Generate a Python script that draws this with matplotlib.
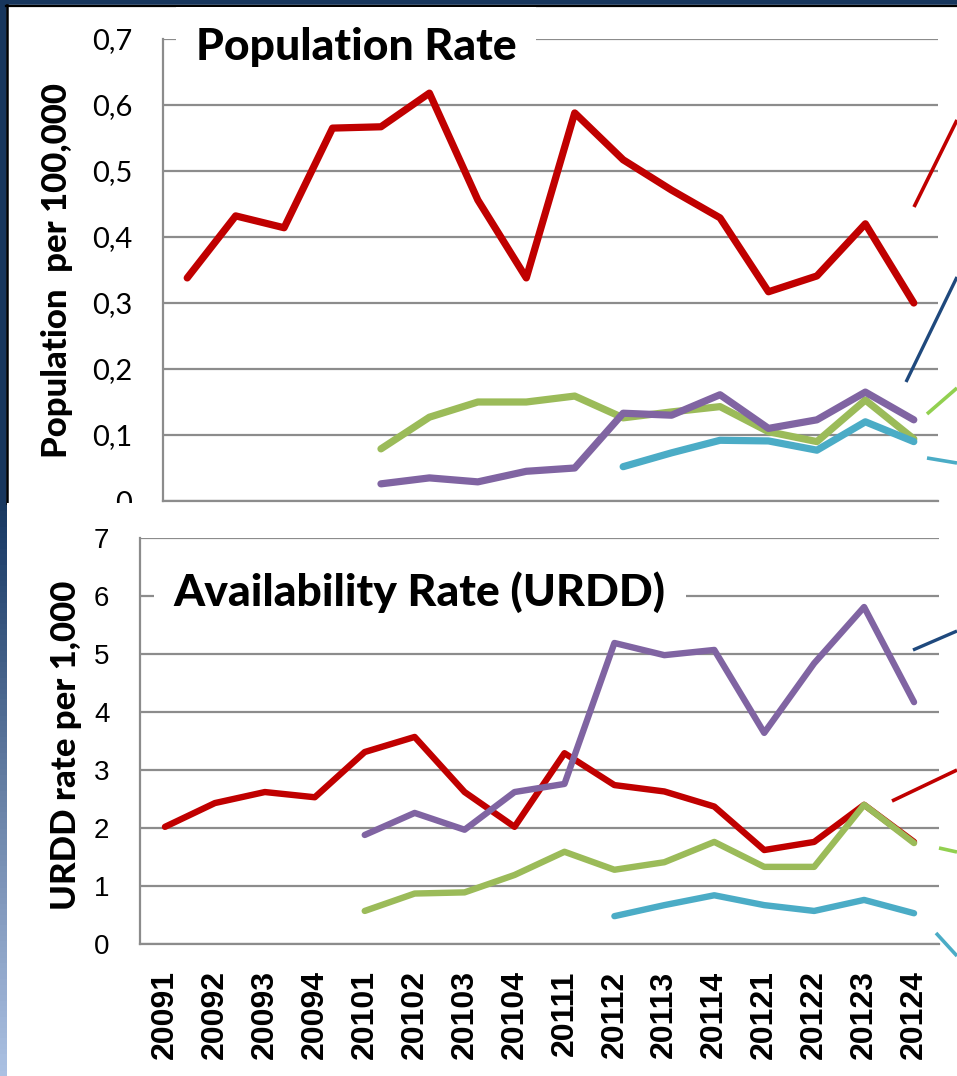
import numpy as np
import matplotlib.pyplot as plt
from matplotlib.colors import LinearSegmentedColormap

quarters = ['20091', '20092', '20093', '20094', '20101', '20102', '20103', '20104',
            '20111', '20112', '20113', '20114', '20121', '20122', '20123', '20124']

# Population rate (per 100,000)
pop_red = [0.338, 0.432, 0.414, 0.565, 0.567, 0.618, 0.456, 0.338,
           0.588, 0.517, 0.471, 0.429, 0.317, 0.341, 0.420, 0.300]
pop_green = [None, None, None, None, 0.079, 0.127, 0.150, 0.150,
             0.159, 0.126, 0.135, 0.143, 0.105, 0.090, 0.153, 0.094]
pop_purple = [None, None, None, None, 0.026, 0.035, 0.029, 0.045,
              0.050, 0.133, 0.130, 0.161, 0.110, 0.123, 0.165, 0.123]
pop_cyan = [None, None, None, None, None, None, None, None,
            None, 0.052, 0.073, 0.092, 0.091, 0.077, 0.120, 0.090]

# Availability rate (URDD per 1,000)
urdd_red = [2.02, 2.43, 2.62, 2.53, 3.31, 3.57, 2.62, 2.02,
            3.29, 2.74, 2.63, 2.37, 1.62, 1.76, 2.40, 1.76]
urdd_purple = [None, None, None, None, 1.88, 2.26, 1.97, 2.62,
               2.76, 5.19, 4.98, 5.07, 3.64, 4.84, 5.81, 4.17]
urdd_green = [None, None, None, None, 0.57, 0.87, 0.89, 1.19,
              1.59, 1.28, 1.41, 1.76, 1.33, 1.33, 2.40, 1.74]
urdd_cyan = [None, None, None, None, None, None, None, None,
             None, 0.48, 0.67, 0.84, 0.67, 0.57, 0.76, 0.53]

pop_ticks = ['0', '0,1', '0,2', '0,3', '0,4', '0,5', '0,6', '0,7']

RED = '#c00000'
GREEN = '#9bbb59'
PURPLE = '#8064a2'
CYAN = '#4bacc6'
NAVY = '#1f497d'
LIME = '#92d050'
GRID = '#8c8c8c'

# cut-off legend leader lines at the right edge (pixel coords)
leaders = [
    ((914, 207), (957, 120), RED, 2.6),
    ((906, 382), (957, 277), NAVY, 2.4),
    ((927, 414), (957, 388), LIME, 2.6),
    ((927, 458), (957, 463), CYAN, 2.6),
    ((913, 650), (957, 631), NAVY, 2.4),
    ((892, 801), (957, 770), RED, 2.6),
    ((939, 848), (957, 852), LIME, 2.6),
    ((936, 933), (957, 956), CYAN, 2.6),
]

W, H = 957, 1076


def arr(v):
    return np.array([np.nan if x is None else x for x in v], dtype=float)


def pix_axes(fig, x0, y0, x1, y1, z):
    ax = fig.add_axes([x0 / W, 1 - y1 / H, (x1 - x0) / W, (y1 - y0) / H])
    ax.set_zorder(z)
    return ax


def style_axes(ax):
    for s in ['top', 'right']:
        ax.spines[s].set_visible(False)
    for s in ['left', 'bottom']:
        ax.spines[s].set_color(GRID)
        ax.spines[s].set_linewidth(1.6)
    ax.grid(axis='y', color=GRID, linewidth=1.6)
    ax.set_axisbelow(True)
    ax.tick_params(length=0)
    ax.set_facecolor('none')
    ax.set_xlim(-0.5, len(quarters) - 0.5)


def main():
    fig = plt.figure(figsize=(W / 100, H / 100), dpi=100)

    # background: navy frame, gradient strip, white panels
    bg = fig.add_axes([0, 0, 1, 1])
    bg.set_zorder(0)
    bg.set_xlim(0, W)
    bg.set_ylim(H, 0)
    bg.axis('off')
    cmap = LinearSegmentedColormap.from_list(
        'strip', [(0, '#17365d'), (0.46, '#17365d'), (0.5, '#1e3f6a'),
                  (0.75, '#6a83a8'), (1, '#abc0e2')])
    bg.imshow(np.linspace(0, 1, 200).reshape(-1, 1), cmap=cmap, aspect='auto',
              extent=(0, 7, H, 0))
    bg.add_patch(plt.Rectangle((0, 0), W, 5, color='#17365d'))
    bg.add_patch(plt.Rectangle((7, 5), W, 498, color='white'))
    bg.plot([6, W], [5.5, 5.5], color='black', lw=1.6)
    bg.plot([7, 7], [5, 503], color='black', lw=1.8)

    # top chart
    ax1 = pix_axes(fig, 163, 39, 938, 501, 1)
    style_axes(ax1)
    x = np.arange(len(quarters))
    lw1 = 5.2
    kw = dict(solid_capstyle='round', solid_joinstyle='round')
    ax1.plot(x, arr(pop_green), color=GREEN, lw=lw1, **kw)
    ax1.plot(x, arr(pop_purple), color=PURPLE, lw=lw1, **kw)
    ax1.plot(x, arr(pop_cyan), color=CYAN, lw=lw1, **kw)
    ax1.plot(x, arr(pop_red), color=RED, lw=lw1, **kw)
    ax1.set_ylim(0, 0.7)
    ax1.set_yticks(np.arange(0, 0.71, 0.1))
    ax1.set_yticklabels(pop_ticks, family='Lato', fontsize=21)
    ax1.tick_params(axis='y', pad=22)
    ax1.set_xticks(x)
    ax1.set_xticklabels([])
    ax1.set_ylabel('Population  per 100,000', family='Lato', fontweight=900,
                   fontsize=25)
    ax1.yaxis.set_label_coords(-0.116, 0.5)
    ax1.text(0.042, 0.982, 'Population Rate', transform=ax1.transAxes,
             family='Lato', fontweight=900, fontsize=32, va='center', ha='left',
             bbox=dict(boxstyle='square,pad=0.45', fc='white', ec='none'))

    # white panel for the lower chart (cuts off the top chart)
    cover = pix_axes(fig, 7, 503, W, H, 2)
    cover.set_facecolor('white')
    cover.set_xticks([])
    cover.set_yticks([])
    for s in cover.spines.values():
        s.set_visible(False)

    # bottom chart
    ax2 = pix_axes(fig, 140, 538, 939, 944, 3)
    style_axes(ax2)
    lw2 = 4.6
    ax2.plot(x, arr(urdd_red), color=RED, lw=lw2, **kw)
    ax2.plot(x, arr(urdd_purple), color=PURPLE, lw=lw2, **kw)
    ax2.plot(x, arr(urdd_green), color=GREEN, lw=lw2, **kw)
    ax2.plot(x, arr(urdd_cyan), color=CYAN, lw=lw2, **kw)
    ax2.set_ylim(0, 7)
    ax2.set_yticks(range(8))
    ax2.set_yticklabels([str(i) for i in range(8)], family='Liberation Sans',
                        fontsize=20)
    ax2.tick_params(axis='y', pad=22)
    ax2.set_xticks(x)
    ax2.set_xticklabels(quarters, rotation=90, family='Liberation Sans',
                        fontweight='bold', fontsize=23)
    ax2.tick_params(axis='x', pad=19)
    ax2.set_ylabel('URDD rate per 1,000', family='Lato', fontweight=900,
                   fontsize=25)
    ax2.yaxis.set_label_coords(-0.073, 0.49)
    ax2.text(0.042, 0.867, 'Availability Rate (URDD)', transform=ax2.transAxes,
             family='Lato', fontweight=900, fontsize=32, va='center', ha='left',
             bbox=dict(boxstyle='square,pad=0.45', fc='white', ec='none'))

    # leader lines of the cropped legend
    ov = pix_axes(fig, 0, 0, W, H, 5)
    ov.set_xlim(0, W)
    ov.set_ylim(H, 0)
    ov.axis('off')
    for (xa, ya), (xb, yb), c, lw in leaders:
        ov.plot([xa, xb], [ya, yb], color=c, lw=lw, solid_capstyle='butt')

    fig.savefig('out.png', dpi=100)


if __name__ == '__main__':
    main()
